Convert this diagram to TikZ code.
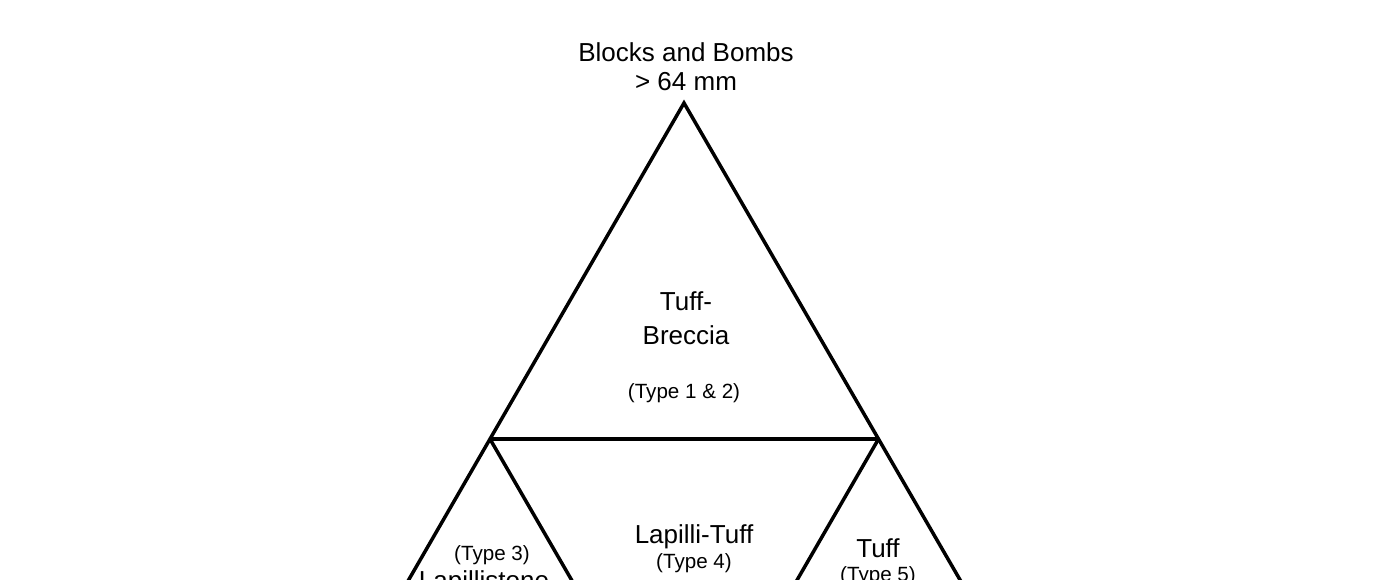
\documentclass[tikz,border=0pt]{standalone}
\usepackage{fontspec}
\setmainfont{Liberation Sans}
\begin{document}
\begin{tikzpicture}[x=0.5pt,y=-0.5pt,
  edge/.style={line width=1.75pt,line join=miter,line cap=butt},
  bigtxt/.style={anchor=base,inner sep=0pt,font=\fontsize{13}{15.6}\selectfont},
  smalltxt/.style={anchor=base,inner sep=0pt,font=\fontsize{10.3}{12.4}\selectfont}]
\useasboundingbox (0,0) rectangle (1388,579);
\clip (0,0) rectangle (1388,579);
\fill[white] (0,0) rectangle (1388,579);
\coordinate (A) at (684,103);
\coordinate (BL) at (296,775);
\coordinate (BR) at (1073,775);
\coordinate (ML) at (490,439);
\coordinate (MR) at (878.5,439);
\coordinate (BM) at (684.5,775);
\draw[edge] (BL) -- (A) -- (BR);
\draw[edge] (ML) -- (MR);
\draw[edge] (ML) -- (BM) -- (MR);
\node[bigtxt] (t1) at (686,61) {Blocks and Bombs};
\node[bigtxt] (t2) at (686,90) {> 64 mm};
\node[bigtxt] (t3) at (686,310) {Tuff-};
\node[bigtxt] (t4) at (686,344) {Breccia};
\node[smalltxt] (t5) at (684,398) {(Type 1 \& 2)};
\node[bigtxt] (t6) at (694,543) {Lapilli-Tuff};
\node[smalltxt] (t7) at (694,568) {(Type 4)};
\node[smalltxt] (t8) at (492,560) {(Type 3)};
\node[bigtxt] (t9) at (484,589) {Lapillistone};
\node[bigtxt] (t10) at (878,557) {Tuff};
\node[smalltxt] (t11) at (878,581) {(Type 5)};
\end{tikzpicture}
\end{document}
